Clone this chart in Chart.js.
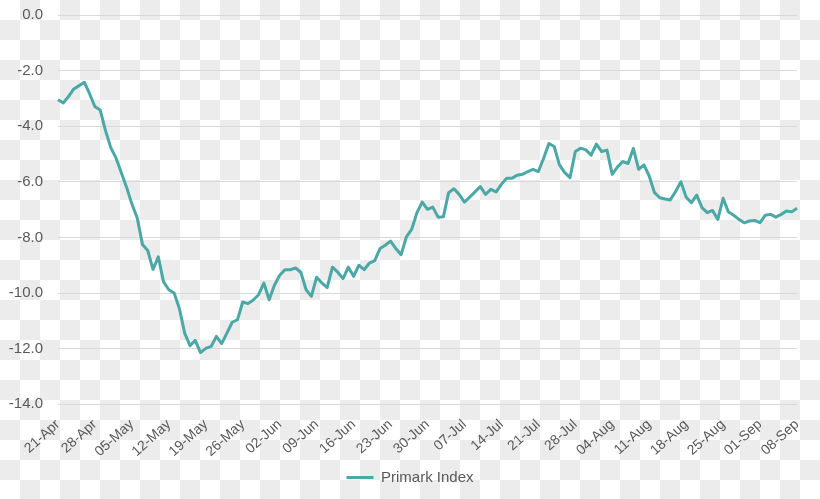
<!DOCTYPE html>
<html>
<head>
<meta charset="utf-8">
<title>Primark Index</title>
<script src="https://cdn.jsdelivr.net/npm/chart.js@4/dist/chart.umd.min.js"></script>
<style>
  html, body {
    margin: 0;
    padding: 0;
  }
  body {
    width: 820px;
    height: 499px;
    overflow: hidden;
    background-color: #fff;
    background-image: conic-gradient(#ececec 0 25%, #fff 0 50%, #ececec 0 75%, #fff 0);
    background-size: 40px 40px;
  }
  canvas {
    display: block;
  }
</style>
</head>
<body>
<canvas id="chart" width="820" height="499"></canvas>
<script>
// Viikkojen nimiöt x-akselilla (päivä 0 = 21-Apr)
const weekLabels = [
  '21-Apr', '28-Apr', '05-May', '12-May', '19-May', '26-May', '02-Jun',
  '09-Jun', '16-Jun', '23-Jun', '30-Jun', '07-Jul', '14-Jul', '21-Jul',
  '28-Jul', '04-Aug', '11-Aug', '18-Aug', '25-Aug', '01-Sep', '08-Sep',
];

// Päivittäiset arvot, luettu kuvasta
const primarkIndex = [
  -3.05, -3.16, -2.93, -2.66, -2.54, -2.42, -2.84, -3.30, -3.42, -4.16,
  -4.77, -5.15, -5.67, -6.20, -6.80, -7.29, -8.25, -8.47, -9.15, -8.70,
  -9.60, -9.88, -10.00, -10.56, -11.44, -11.89, -11.70, -12.14, -11.99, -11.92,
  -11.56, -11.82, -11.44, -11.05, -10.96, -10.32, -10.38, -10.25, -10.06, -9.64,
  -10.24, -9.72, -9.36, -9.16, -9.16, -9.10, -9.25, -9.88, -10.12, -9.43,
  -9.64, -9.80, -9.07, -9.25, -9.48, -9.07, -9.40, -9.00, -9.16, -8.92,
  -8.83, -8.40, -8.28, -8.13, -8.40, -8.62, -7.98, -7.71, -7.11, -6.73,
  -6.99, -6.91, -7.27, -7.26, -6.39, -6.25, -6.45, -6.73, -6.55, -6.36,
  -6.17, -6.45, -6.27, -6.36, -6.09, -5.87, -5.87, -5.76, -5.73, -5.63,
  -5.55, -5.63, -5.15, -4.62, -4.73, -5.39, -5.67, -5.85, -4.91, -4.79,
  -4.85, -5.04, -4.64, -4.91, -4.86, -5.73, -5.46, -5.27, -5.34, -4.80,
  -5.55, -5.39, -5.79, -6.39, -6.57, -6.62, -6.65, -6.35, -6.00, -6.55,
  -6.75, -6.48, -6.93, -7.11, -7.03, -7.35, -6.59, -7.08, -7.20, -7.35,
  -7.47, -7.41, -7.39, -7.47, -7.20, -7.17, -7.27, -7.17, -7.05, -7.08,
  -6.95,
];

const yTicks = {min: -14, max: 0, step: 2};

// Jokaiselle päivälle nimiö, vain viikon välein näkyvät
const dayLabels = primarkIndex.map((v, i) =>
  i % 7 === 0 ? weekLabels[i / 7] : '',
);

const textColor = '#595959';
const lineColor = '#4aa8a6';
const font = {family: "'Liberation Sans', Arial, sans-serif", size: 15};

const ctx = document.getElementById('chart').getContext('2d');

new Chart(ctx, {
  type: 'line',
  data: {
    labels: dayLabels,
    datasets: [
      {
        label: 'Primark Index',
        data: primarkIndex,
        borderColor: lineColor,
        backgroundColor: lineColor,
        borderWidth: 3,
        pointRadius: 0,
        tension: 0,
        borderJoinStyle: 'round',
      },
    ],
  },
  options: {
    responsive: false,
    animation: false,
    devicePixelRatio: 1,
    layout: {
      padding: {top: 15, right: 0, bottom: 4, left: 0},
    },
    plugins: {
      tooltip: {enabled: false},
      legend: {
        position: 'bottom',
        labels: {
          color: textColor,
          font: font,
          usePointStyle: true,
          pointStyle: 'line',
          pointStyleWidth: 27,
          padding: 10,
        },
      },
    },
    scales: {
      x: {
        grid: {display: false},
        border: {display: false},
        afterFit: (scale) => {
          scale.height = scale.height - 4;
        },
        ticks: {
          color: textColor,
          font: {family: font.family, size: 14},
          autoSkip: false,
          minRotation: 42,
          maxRotation: 42,
          padding: 4,
          callback: (value, index) => dayLabels[index] || null,
        },
      },
      y: {
        min: yTicks.min,
        max: yTicks.max,
        grid: {color: '#d9d9d9', drawTicks: false},
        border: {display: false},
        afterFit: (scale) => {
          scale.width = 58;
          scale.paddingTop = 0;
          scale.paddingBottom = 0;
        },
        ticks: {
          color: textColor,
          font: font,
          stepSize: yTicks.step,
          padding: 15,
          callback: (value) => value.toFixed(1),
        },
      },
      // Tyhjä oikea akseli pitää tilaa oikealla
      yRight: {
        position: 'right',
        grid: {display: false},
        border: {display: false},
        ticks: {display: false},
        afterFit: (scale) => {
          scale.width = 23;
          scale.paddingTop = 0;
          scale.paddingBottom = 0;
        },
      },
    },
  },
});
</script>
</body>
</html>
